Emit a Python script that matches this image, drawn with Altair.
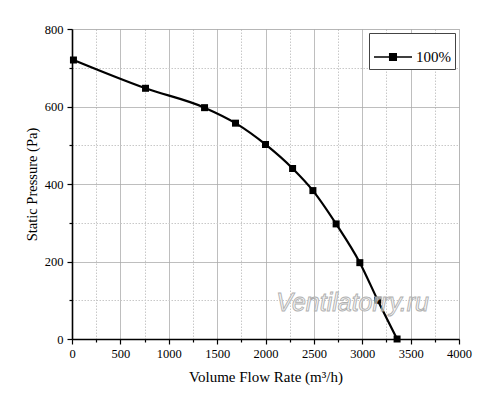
import altair as alt
import pandas as pd

# Data
flow = [15, 760, 1370, 1690, 2000, 2280, 2490, 2730, 2975, 3160, 3360]
pressure = [720, 647, 597, 557, 502, 440, 383, 297, 197, 100, 0]
series_name = "100%"
x_ticks = list(range(0, 4001, 250))
y_ticks = list(range(0, 801, 100))
watermark = ["Ventilatorry.ru"]
watermark_x = [2900]
watermark_y = [93]

df = pd.DataFrame({"flow": flow, "pressure": pressure, "series": series_name})
wm = pd.DataFrame({"text": watermark, "flow": watermark_x, "pressure": watermark_y})

FONT = "Liberation Serif"

def grid_dash(step):
    return {"condition": {"test": f"datum.value % {step} === 0", "value": [1, 0]}, "value": [1.5, 1.5]}

def grid_color(step):
    return {"condition": {"test": f"datum.value % {step} === 0", "value": "#a8a8a8"}, "value": "#c8c8c8"}

def tick_size(step):
    return {"condition": {"test": f"datum.value % {step} === 0", "value": 5}, "value": 3}

x_axis = alt.Axis(
    values=x_ticks,
    labelExpr="datum.value % 500 === 0 ? datum.label : ''",
    format="d",
    title="Volume Flow Rate (m³/h)",
    grid=True,
    gridDash=grid_dash(500),
    gridColor=grid_color(500),
    gridWidth=1,
    tickSize=tick_size(500),
    tickColor="black",
    tickWidth=1.2,
    domainColor="black",
    domainWidth=1.6,
    labelFont=FONT,
    labelFontSize=12.5,
    labelColor="black",
    labelPadding=3,
    titleFont=FONT,
    titleFontSize=15,
    titleFontWeight="normal",
    titleColor="black",
    titlePadding=10,
    labelFlush=False,
)

y_axis = alt.Axis(
    values=y_ticks,
    labelExpr="datum.value % 200 === 0 ? datum.label : ''",
    format="d",
    title="Static Pressure (Pa)",
    grid=True,
    gridDash=grid_dash(200),
    gridColor=grid_color(200),
    gridWidth=1,
    tickSize=tick_size(200),
    tickColor="black",
    tickWidth=1.2,
    domainColor="black",
    domainWidth=1.6,
    labelFont=FONT,
    labelFontSize=12.5,
    labelColor="black",
    labelPadding=4,
    titleFont=FONT,
    titleFontSize=14.5,
    titleFontWeight="normal",
    titleColor="black",
    titlePadding=5,
    labelFlush=False,
)

x_enc = alt.X("flow:Q", scale=alt.Scale(domain=[0, 4000], nice=False), axis=x_axis)
y_enc = alt.Y("pressure:Q", scale=alt.Scale(domain=[0, 800], nice=False), axis=y_axis)

line = alt.Chart(df).mark_line(strokeWidth=2.2, interpolate="monotone").encode(
    x=x_enc,
    y=y_enc,
    color=alt.Color(
        "series:N",
        scale=alt.Scale(range=["black"]),
        legend=alt.Legend(
            title=None,
            orient="top-right",
            offset=4,
            symbolType="M-1,0H1M-0.17,-0.17H0.17V0.17H-0.17Z",
            symbolSize=1444,
            symbolStrokeWidth=1.6,
            symbolFillColor="black",
            symbolStrokeColor="black",
            labelFont=FONT,
            labelFontSize=15,
            labelColor="black",
            labelOffset=3,
            strokeColor="#444",
            padding=4,
            fillColor="white",
        ),
    ),
)

points = alt.Chart(df).mark_point(shape="square", filled=True, size=49, opacity=1, color="black").encode(
    x=x_enc, y=y_enc
)

text = alt.Chart(wm).mark_text(
    font="Liberation Sans",
    fontSize=25,
    fontStyle="italic",
    fill="#f4f4f4",
    stroke="#b0b0b0",
    strokeWidth=0.9,
    fillOpacity=0.6,
).encode(x=x_enc, y=y_enc, text="text:N")

chart = (
    alt.layer(line, points, text)
    .properties(
        width=387,
        height=310,
        autosize=alt.AutoSizeParams(type="none"),
        padding={"left": 64, "top": 21, "right": 33, "bottom": 63},
    )
    .configure_view(stroke="black", strokeWidth=1)
    .configure(background="white")
)

chart.save("out.html", embed_options={"renderer": "svg", "actions": False})
